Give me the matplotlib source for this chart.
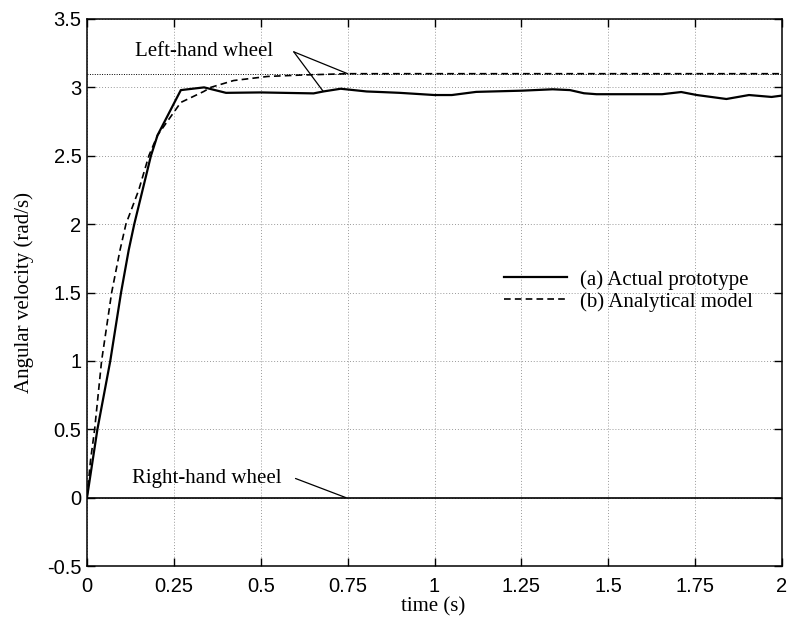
import matplotlib
matplotlib.use("Agg")
import matplotlib.pyplot as plt

# Left-hand wheel, actual prototype (solid)
actual_t = [0, 0.030, 0.067, 0.098, 0.120, 0.136, 0.184, 0.203, 0.270, 0.337, 0.400,
            0.500, 0.652, 0.680, 0.730, 0.805, 0.845, 0.900, 1.000, 1.050, 1.120,
            1.253, 1.340, 1.390, 1.430, 1.466, 1.655, 1.710, 1.755, 1.840, 1.905,
            1.970, 2.000]
actual_v = [0, 0.5, 1.0, 1.5, 1.81, 2.0, 2.5, 2.65, 2.98, 3.0, 2.96,
            2.963, 2.956, 2.97, 2.99, 2.97, 2.966, 2.96, 2.944, 2.944, 2.967,
            2.976, 2.986, 2.98, 2.957, 2.95, 2.95, 2.966, 2.944, 2.915, 2.944,
            2.93, 2.94]

# Left-hand wheel, analytical model (dashed)
model_t = [0, 0.010, 0.022, 0.042, 0.071, 0.095, 0.112, 0.149, 0.178, 0.203, 0.270,
           0.336, 0.356, 0.422, 0.520, 0.615, 0.750, 1.0, 1.5, 2.0]
model_v = [0, 0.27, 0.5, 1.0, 1.5, 1.81, 2.0, 2.25, 2.5, 2.65, 2.89,
           2.97, 3.0, 3.05, 3.08, 3.09, 3.1, 3.1, 3.1, 3.1]

# Right-hand wheel (both at zero)
right_t = [0, 2]
right_v = [0, 0]

steady_level = 3.1

x_ticks = [0, 0.25, 0.5, 0.75, 1, 1.25, 1.5, 1.75, 2]
x_ticklabels = ["0", "0.25", "0.5", "0.75", "1", "1.25", "1.5", "1.75", "2"]
y_ticks = [-0.5, 0, 0.5, 1, 1.5, 2, 2.5, 3, 3.5]
y_ticklabels = ["-0.5", "0", "0.5", "1", "1.5", "2", "2.5", "3", "3.5"]

serif = "Liberation Serif"
sans = "Liberation Sans"

fig = plt.figure(figsize=(7.89, 6.26), dpi=100)
ax = fig.add_axes([87 / 789, 60 / 626, 695 / 789, 547 / 626])

ax.grid(True, linestyle=(0, (1, 2)), color="#999999", linewidth=0.7)
ax.set_axisbelow(True)

ax.axhline(steady_level, color="black", linestyle=(0, (1, 1.5)), linewidth=0.7)

ax.plot(actual_t, actual_v, color="black", linewidth=1.6, label="(a) Actual prototype")
ax.plot(model_t, model_v, color="black", linewidth=1.2, linestyle=(0, (4, 2.5)),
        label="(b) Analytical model")
ax.plot(right_t, right_v, color="black", linewidth=1.2)

ax.set_xlim(0, 2)
ax.set_ylim(-0.5, 3.5)
ax.set_xticks(x_ticks)
ax.set_xticklabels(x_ticklabels, fontfamily=sans, fontsize=14.5)
ax.set_yticks(y_ticks)
ax.set_yticklabels(y_ticklabels, fontfamily=sans, fontsize=14.5)
ax.tick_params(direction="in", length=6, width=1, top=True, right=True)
ax.tick_params(axis="x", pad=8)
ax.tick_params(axis="y", pad=4)
for s in ax.spines.values():
    s.set_linewidth(1.1)

ax.set_xlabel("time (s)", fontfamily=serif, fontsize=15)
ax.set_ylabel("Angular velocity (rad/s)", fontfamily=serif, fontsize=15)
ax.xaxis.set_label_coords(0.498, -0.058)
ax.yaxis.set_label_coords(-0.076, 0.5)

# Annotations
ax.text(0.336, 3.26, "Left-hand wheel", fontfamily=serif, fontsize=15,
        ha="center", va="center")
for end in [(0.75, 3.1), (0.68, 2.97)]:
    ax.annotate("", xy=end, xytext=(0.595, 3.26),
                arrowprops=dict(arrowstyle="-", color="black", lw=0.9,
                                shrinkA=0, shrinkB=0))
ax.text(0.345, 0.14, "Right-hand wheel", fontfamily=serif, fontsize=15,
        ha="center", va="center")
ax.annotate("", xy=(0.745, 0.0), xytext=(0.60, 0.14),
            arrowprops=dict(arrowstyle="-", color="black", lw=0.9,
                            shrinkA=0, shrinkB=0))

leg = ax.legend(loc="upper left", bbox_to_anchor=(504 / 789, 1 - 270 / 626),
                bbox_transform=fig.transFigure, frameon=False, borderpad=0,
                borderaxespad=0, handlelength=3.0, handletextpad=0.65,
                labelspacing=0.1, prop={"family": serif, "size": 15})

fig.savefig("out.png", dpi=100)
